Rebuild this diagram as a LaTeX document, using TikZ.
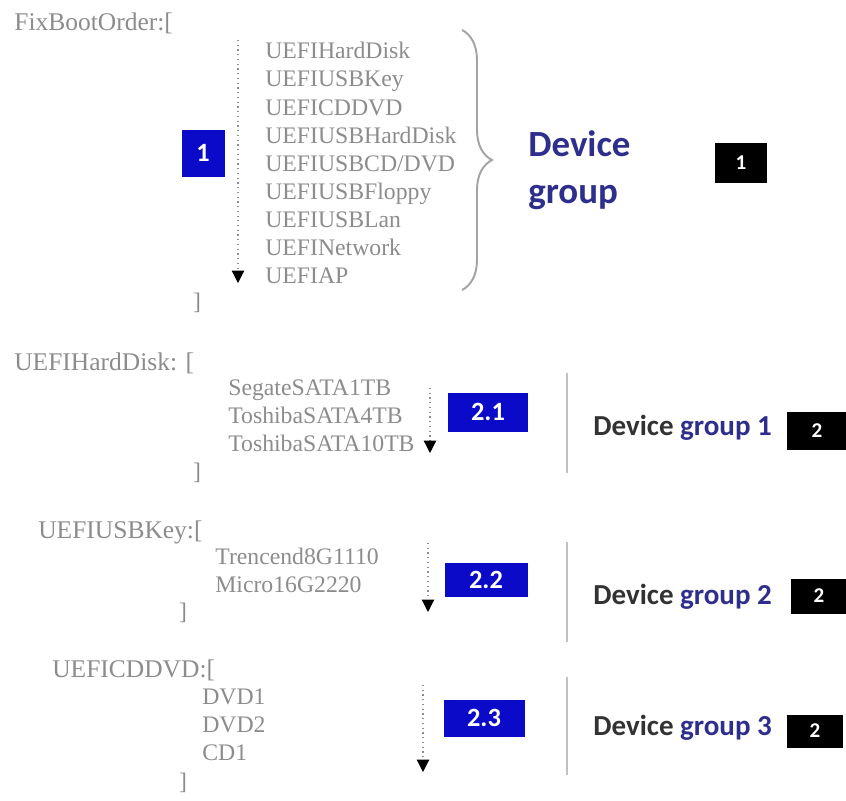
\documentclass[tikz,border=0pt]{standalone}
\usepackage{fontspec}
\setmainfont{Liberation Serif}
\newfontfamily\lblfont{Carlito}
\usetikzlibrary{arrows.meta,decorations.pathreplacing}
\definecolor{boxblue}{RGB}{10,10,200}
\definecolor{grpblue}{RGB}{46,46,140}
\definecolor{txtgray}{RGB}{140,140,140}
\definecolor{rulegray}{RGB}{192,192,198}
\definecolor{devgray}{RGB}{50,50,50}

\begin{document}
\begin{tikzpicture}[x=0.02cm, y=-0.02cm,
  code/.style = {text=txtgray, inner sep=0pt, font=\fontsize{13.5}{16}\selectfont},
  list/.style = {code, align=left, anchor=north west},
  numbox/.style = {fill=boxblue, text=white, inner sep=0pt, font=\lblfont\bfseries\fontsize{15}{15}\selectfont},
  tagbox/.style = {fill=black, text=white, inner sep=0pt, font=\lblfont\bfseries\fontsize{12}{12}\selectfont},
  grptext/.style = {inner sep=0pt, anchor=west, font=\lblfont\bfseries\fontsize{16.5}{16.5}\selectfont},
  flow/.style = {txtgray, dotted, line width=0.7pt, -{Triangle[black, width=7pt, length=7pt]}},
  sep/.style = {rulegray, line width=1.6pt}]
\useasboundingbox (0,0) rectangle (846,801);

% boot order
\node[code, anchor=west, font=\fontsize{14.5}{16}\selectfont] (fix) at (14,23) {FixBootOrder:[};
\node[list] (order) at (265,42) {UEFIHardDisk\\UEFIUSBKey\\UEFICDDVD\\UEFIUSBHardDisk\\UEFIUSBCD/DVD\\UEFIUSBFloppy\\UEFIUSBLan\\UEFINetwork\\UEFIAP};
\node[code] (fixend) at (197,303) {]};
\node[numbox, minimum width=43*0.02cm, minimum height=47*0.02cm] (n1) at (203,153) {1};
\coordinate (f1s) at (238,40);
\coordinate (f1e) at (238,283);
\draw[flow] (f1s) -- (f1e);
\coordinate (b1s) at (462,30);
\coordinate (b1e) at (462,290);
\draw[txtgray!80, line width=1.1pt, decorate, decoration={brace, amplitude=0.6cm}] (b1s) -- (b1e);
\node[inner sep=0pt, anchor=west, align=left, text=grpblue, font=\lblfont\bfseries\fontsize{21}{27}\selectfont] (grp) at (528,170) {Device\\group};
\node[tagbox, minimum width=52*0.02cm, minimum height=40*0.02cm] (t1) at (741,163) {1};

% hard disk
\node[code, anchor=west, font=\fontsize{14.5}{16}\selectfont] (hdd) at (14,363) {UEFIHardDisk: [};
\node[list] (hddlist) at (228,379) {SegateSATA1TB\\ToshibaSATA4TB\\ToshibaSATA10TB};
\node[code] (hddend) at (197,473) {]};
\coordinate (f2s) at (430,388);
\coordinate (f2e) at (430,453);
\draw[flow] (f2s) -- (f2e);
\node[numbox, minimum width=80*0.02cm, minimum height=39*0.02cm] (n21) at (488,412) {2.1};
\coordinate (s2s) at (567,373);
\coordinate (s2e) at (567,473);
\draw[sep] (s2s) -- (s2e);
\node[grptext] (g1) at (593,428) {\textcolor{devgray}{Device} \textcolor{grpblue}{group 1}};
\node[tagbox, minimum width=60*0.02cm, minimum height=38*0.02cm] (t21) at (817,431) {2};

% usb key
\node[code, anchor=west, font=\fontsize{14.5}{16}\selectfont] (usb) at (38,532) {UEFIUSBKey:[};
\node[list] (usblist) at (215,548) {Trencend8G1110\\Micro16G2220};
\node[code] (usbend) at (183,613) {]};
\coordinate (f3s) at (428,543);
\coordinate (f3e) at (428,612);
\draw[flow] (f3s) -- (f3e);
\node[numbox, minimum width=83*0.02cm, minimum height=34*0.02cm] (n22) at (486,580) {2.2};
\coordinate (s3s) at (567,542);
\coordinate (s3e) at (567,642);
\draw[sep] (s3s) -- (s3e);
\node[grptext] (g2) at (593,597) {\textcolor{devgray}{Device} \textcolor{grpblue}{group 2}};
\node[tagbox, minimum width=56*0.02cm, minimum height=35*0.02cm] (t22) at (819,596) {2};

% cd/dvd
\node[code, anchor=west, font=\fontsize{14.5}{16}\selectfont] (cdd) at (52,670) {UEFICDDVD:[};
\node[list] (cddlist) at (202,688) {DVD1\\DVD2\\CD1};
\node[code] (cddend) at (183,783) {]};
\coordinate (f4s) at (423,685);
\coordinate (f4e) at (423,772);
\draw[flow] (f4s) -- (f4e);
\node[numbox, minimum width=81*0.02cm, minimum height=37*0.02cm] (n23) at (484,718) {2.3};
\coordinate (s4s) at (567,677);
\coordinate (s4e) at (567,775);
\draw[sep] (s4s) -- (s4e);
\node[grptext] (g3) at (593,728) {\textcolor{devgray}{Device} \textcolor{grpblue}{group 3}};
\node[tagbox, minimum width=56*0.02cm, minimum height=33*0.02cm] (t23) at (815,731) {2};
\end{tikzpicture}
\end{document}
